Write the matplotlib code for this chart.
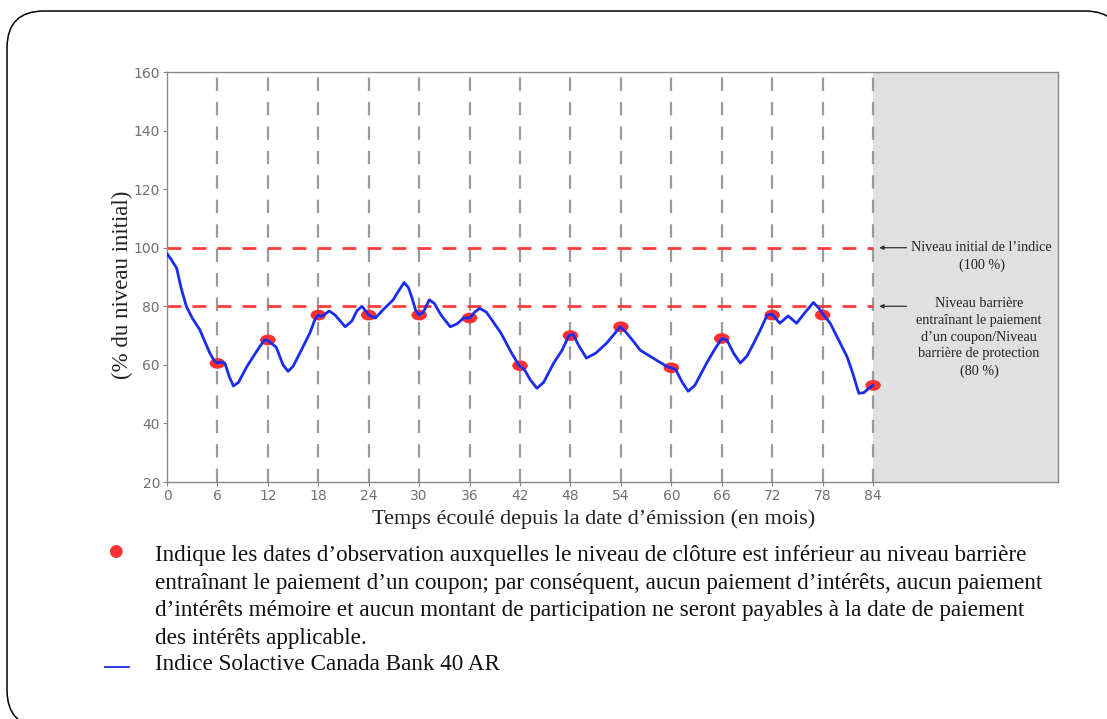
import matplotlib
matplotlib.use("Agg")
import matplotlib.pyplot as plt
from matplotlib.patches import FancyBboxPatch
from matplotlib.path import Path
from matplotlib.transforms import Affine2D

# ---- data ----
months = [0, 0.5, 1.15, 1.7, 2.3, 3, 3.9, 4.5, 5.1, 5.6, 6, 6.5, 6.9, 7.4, 7.9, 8.5, 9.5, 10.3,
          11.1, 11.6, 12, 13, 13.8, 14.4, 15, 15.8, 17, 17.6, 18, 18.4, 19.3, 20, 21.2, 22,
          22.6, 23.2, 23.6, 24, 24.8, 25.6, 26.9, 27.5, 28.2, 28.7, 29.1, 29.6, 30, 30.5,
          31.2, 31.8, 32.6, 33.7, 34.5, 35.3, 36, 36.6, 37.2, 38, 39.7, 41, 41.9, 42.5, 43.2,
          44, 44.8, 46, 47, 47.8, 48.3, 49, 49.9, 51, 52.3, 53.2, 53.9, 54.5, 55.5, 56.3, 58,
          59.5, 60.5, 61.3, 62, 62.8, 64.2, 65.2, 66, 66.6, 67.4, 68.2, 69, 69.8, 70.6, 71.4,
          72, 72.9, 73.9, 74.9, 75.8, 76.9, 77.5, 78, 78.9, 79.9, 80.9, 81.6, 82.3, 82.9, 83.5, 84]
index_level = [98, 96, 93, 86, 80, 76, 72, 68, 64, 61.5, 60.6, 61, 60.5, 56, 52.8, 54, 59.4, 63,
               66.5, 68.5, 68.3, 66, 60, 57.8, 59.5, 64, 70.9, 75.5, 77, 76.5, 78.4, 77, 73, 75,
               78.5, 80, 78.5, 77, 76, 78.5, 82.2, 85, 88.1, 86.5, 83.3, 78.5, 77, 78,
               82.2, 81, 77, 73, 74, 76, 76, 78, 79.3, 78, 71, 64, 59.7, 58.5, 55,
               52, 54, 60.6, 65, 69.9, 70.5, 66.5, 62.3, 64, 67.4, 70.5, 73, 71.5, 68, 65, 62,
               59.4, 58.5, 54, 51, 53, 60.6, 65.5, 69, 68.5, 64, 60.6, 63, 67.4, 72, 77,
               77.3, 74.2, 76.7, 74.2, 77.5, 81.3, 79.5, 77.5, 74.2, 68.5, 62.8, 57, 50.3, 50.5, 52, 53]

obs_months = [6, 12, 18, 24, 30, 36, 42, 48, 54, 60, 66, 72, 78, 84]
obs_levels = [60.5, 68.5, 77, 77, 77, 76, 59.7, 70, 73, 59, 69, 77, 77, 53]

initial_level = 100
barrier_level = 80
xticks = list(range(0, 85, 6))
yticks = list(range(20, 161, 20))

W, H = 1107, 719

# ---- figure ----
fig = plt.figure(figsize=(W / 100, H / 100), dpi=100)
fig.patch.set_facecolor("white")

bg = fig.add_axes([0, 0, 1, 1], zorder=-5)
bg.set_xlim(0, W)
bg.set_ylim(H, 0)
bg.axis("off")
frame = FancyBboxPatch((7, 11), 1115, 716, boxstyle="round,pad=0,rounding_size=37",
                       facecolor="white", edgecolor="black", linewidth=1.1)
frame.set_clip_on(False)
bg.add_patch(frame)

ax = fig.add_axes([167 / W, 1 - 482 / H, (1058 - 167) / W, (482 - 72) / H])
ax.set_xlim(0, 106)
ax.set_ylim(20, 160)

ax.axvspan(84, 106, color="#e0e0e0", zorder=0, lw=0)

for m in obs_months:
    ax.axvline(m, color="#9a9a9a", lw=1.6, ls=(0, (6, 5)), zorder=1)

for lvl in (initial_level, barrier_level):
    ax.plot([0, 84], [lvl, lvl], color="#ff3b3b", lw=2.0, ls=(0, (5, 4)), zorder=2)

ellipse = Path.unit_circle().transformed(Affine2D().scale(1.45, 1.0))
ax.scatter(obs_months, obs_levels, marker=ellipse, s=125, color="#ff3030",
           edgecolors="none", zorder=3)
ax.plot(months, index_level, color="#1a2cf0", lw=2.0, zorder=4,
        solid_joinstyle="round", solid_capstyle="round")

for sp in ax.spines.values():
    sp.set_color("#888888")
    sp.set_linewidth(1.0)

ax.set_xticks(xticks)
ax.set_yticks(yticks)
ax.tick_params(colors="#888888", labelcolor="#707070", labelsize=10, length=3, pad=2)

serif = ["Liberation Serif", "DejaVu Serif"]
fig.text(594 / W, 1 - 519 / H, "Temps écoulé depuis la date d’émission (en mois)", family=serif,
         fontsize=16, color="#222222", ha="center", va="center")
fig.text(122 / W, 1 - 285 / H, "(% du niveau initial)", family=serif, fontsize=16.5,
         color="#222222", ha="center", va="center", rotation=90)

# annotations in grey area
ax.annotate("", xy=(84.4, 100), xytext=(88.3, 100),
            arrowprops=dict(arrowstyle="-|>", color="#333333", lw=0.9, mutation_scale=6))
ax.text(96.9, 102.4, "Niveau initial de l’indice\n(100 %)", family=serif, fontsize=10.2,
        ha="center", va="top", linespacing=1.45, color="#222222")
ax.annotate("", xy=(84.4, 80), xytext=(88.3, 80),
            arrowprops=dict(arrowstyle="-|>", color="#333333", lw=0.9, mutation_scale=6))
ax.text(96.6, 83.2, "Niveau barrière\nentraînant le paiement\nd’un coupon/Niveau\nbarrière de protection\n(80 %)",
        family=serif, fontsize=10.2, ha="center", va="top", linespacing=1.38, color="#222222")

# legend below
fig.text(115 / W, 1 - 551 / H, "●", color="#ff3030", fontsize=12, ha="center", va="center",
         family="DejaVu Sans")
legend_text = ("Indique les dates d’observation auxquelles le niveau de clôture est inférieur au niveau barrière\n"
               "entraînant le paiement d’un coupon; par conséquent, aucun paiement d’intérêts, aucun paiement\n"
               "d’intérêts mémoire et aucun montant de participation ne seront payables à la date de paiement\n"
               "des intérêts applicable.")
fig.text(155 / W, 1 - 597 / H, legend_text, family=serif, fontsize=16.7, ha="left", va="center",
         linespacing=1.43, color="#111111")
fig.add_artist(plt.Line2D([105 / W, 129 / W], [1 - 667 / H, 1 - 667 / H],
                          color="#1a2cf0", lw=1.3, transform=fig.transFigure))
fig.text(155 / W, 1 - 665 / H, "Indice Solactive Canada Bank 40 AR", family=serif,
         fontsize=16.7, ha="left", va="center", color="#111111")

fig.savefig("out.png", dpi=100)
